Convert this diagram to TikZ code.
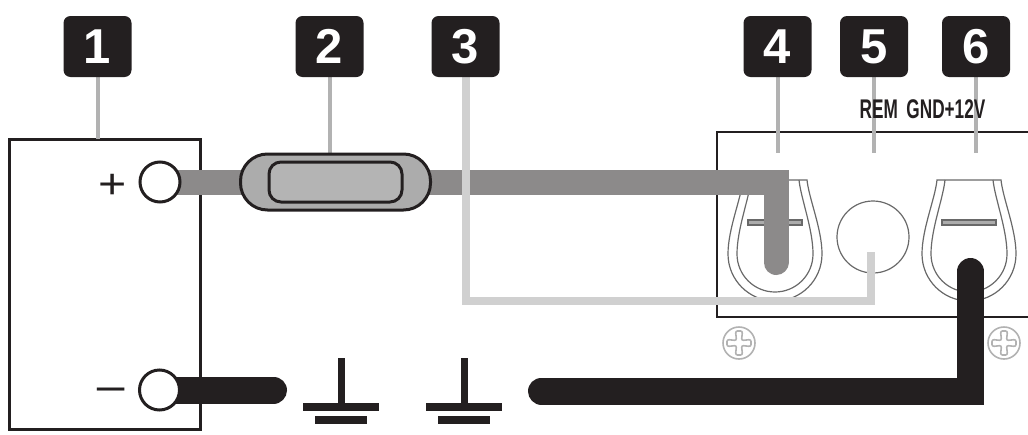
\documentclass[tikz,border=0pt]{standalone}
\usepackage{fontspec}
\setmainfont{Liberation Sans}
\usetikzlibrary{positioning}
\definecolor{mydark}{RGB}{35,31,32}
\definecolor{mywire}{RGB}{140,138,138}
\definecolor{mylight}{RGB}{208,208,208}
\definecolor{myleader}{RGB}{178,178,178}
\definecolor{myfuse}{RGB}{172,172,172}
\definecolor{myoutline}{RGB}{105,105,105}
\pgfdeclarelayer{back}
\pgfdeclarelayer{wires}
\pgfsetlayers{back,wires,main}
\tikzstyle{badge}=[rectangle, fill=mydark, text=white, rounded corners=7pt, minimum width=68pt, minimum height=61pt, inner sep=0pt, font=\fontsize{49}{49}\selectfont\bfseries]
\tikzstyle{leader}=[myleader, line width=4pt]
\tikzstyle{terminal}=[circle, draw=mydark, fill=white, line width=3pt, minimum size=40pt, inner sep=0pt, outer sep=0pt]
\tikzstyle{boxline}=[rectangle, draw=mydark, inner sep=0pt, outer sep=0pt]
\tikzstyle{thin outline}=[myoutline, line width=1.2pt]
\tikzstyle{wire plus}=[mywire, line width=25pt, line cap=round]
\tikzstyle{wire rem}=[mylight, line width=8pt]
\tikzstyle{wire gnd}=[mydark, line width=27pt, line cap=round]
\tikzset{
  clamp/.pic={
    \draw[thin outline] (-24,-74) .. controls (-26,-55) and (-38,-25) .. (-38,0) arc (180:0:38) .. controls (38,-25) and (26,-55) .. (24,-74);
    \draw[thin outline] (-32,-74) -- (32,-74) .. controls (34,-55) and (47,-25) .. (47,0) arc (0:180:47) .. controls (-47,-25) and (-34,-55) .. (-32,-74) -- cycle;
    \draw[thin outline, fill=myfuse] (-27,-34) rectangle (27,-29);
  },
  screw/.pic={
    \draw[myleader, line width=1.6pt] (0,0) circle (16);
    \draw[myleader, line width=1.6pt, rounded corners=2pt] (-2.5,-2.5) -- (-3.5,-12) -- (3.5,-12) -- (2.5,-2.5)
      -- (12,-3.5) -- (12,3.5) -- (2.5,2.5) -- (3.5,12) -- (-3.5,12) -- (-2.5,2.5)
      -- (-12,3.5) -- (-12,-3.5) -- cycle;
  },
  ground/.pic={
    \draw[mydark, line width=7pt] (0,0) -- (0,45);
    \draw[mydark, line width=8pt] (-38,49) -- (38,49);
    \draw[mydark, line width=8pt] (-26,62) -- (26,62);
  }
}

\begin{document}
\begin{tikzpicture}[x=1pt, y=-1pt, on grid]
\useasboundingbox (0,0) rectangle (1028,434);

% Badges
\node[badge] (b1) at (97.5,46.5) {1};
\node[badge] (b2) [right=232pt of b1] {2};
\node[badge] (b3) [right=136pt of b2] {3};
\node[badge] (b4) [right=312pt of b3] {4};
\node[badge] (b5) [right=96.5pt of b4] {5};
\node[badge] (b6) [right=102pt of b5] {6};

% Terminals and fuse
\node[terminal] (plus) at (160,182) {};
\node[terminal] (minus) at (159.5,390) {};
\node[rectangle, draw=mydark, fill=myfuse, line width=3pt, rounded corners=27pt, minimum width=190pt, minimum height=56pt, inner sep=0pt, outer sep=0pt] (fuse) at (335.5,182) {};
\node[rectangle, draw=mydark, fill=myfuse!90!white, line width=3pt, rounded corners=12pt, minimum width=133pt, minimum height=40pt, inner sep=0pt] (fusein) at (335.5,182) {};
\node[font=\fontsize{42}{42}\selectfont, xscale=1.15, text=mydark] (pl) at (113,186) {+};
\node[font=\fontsize{42}{42}\selectfont, xscale=1.35, text=mydark] (mi) at (111,396) {−};
\node[font=\fontsize{27}{27}\selectfont\bfseries, xscale=0.637, text=mydark] (lab) at (922.5,109) {REM\hspace{6pt} GND+12V};

\begin{pgfonlayer}{back}
% Battery and amplifier
\node[boxline, line width=3pt, minimum width=191pt, minimum height=290pt] (batt) at (104.5,284) {};
\node[boxline, line width=2pt, minimum width=312pt, minimum height=185pt] (amp) at (873,224.5) {};

% Clamps and screws
\pic at (775,254) {clamp};
\pic at (969,254) {clamp};
\node[circle, draw=myoutline, line width=1.2pt, minimum size=72pt, inner sep=0pt] (rem) at (873,237) {};
\pic at (739,343) {screw};
\pic at (1004,343) {screw};

% Leaders
\coordinate (t4) at (777.5,153);
\coordinate (t5) at (874,153);
\coordinate (t6) at (976,153);
\begin{scope}[leader]
    \draw (b1.south) -- (b1.south |- batt.north);
    \draw (b2.south) -- (b2.south |- fuse.north);
    \draw (b4.south) -- (t4);
    \draw (b5.south) -- (t5);
    \draw (b6.south) -- (t6);
\end{scope}

% Ground symbols
\pic at (341,358) {ground};
\pic at (464,358) {ground};
\end{pgfonlayer}

% Wires
\coordinate (w4) at (776,262.5);
\coordinate (w5) at (871,252);
\coordinate (w5c) at (871,300.5);
\coordinate (w6) at (970.5,271.5);
\coordinate (g1) at (273.5,390);
\coordinate (g2) at (541.5,391);
\begin{pgfonlayer}{wires}
\draw[wire plus] (plus.center) -- (fuse.center) -| (w4);
\draw[wire rem] (b3.south) |- (w5c) -- (w5);
\draw[wire gnd] (minus.center) -- (g1);
\draw[wire gnd] (g2) -| (w6);
\end{pgfonlayer}

\end{tikzpicture}
\end{document}
